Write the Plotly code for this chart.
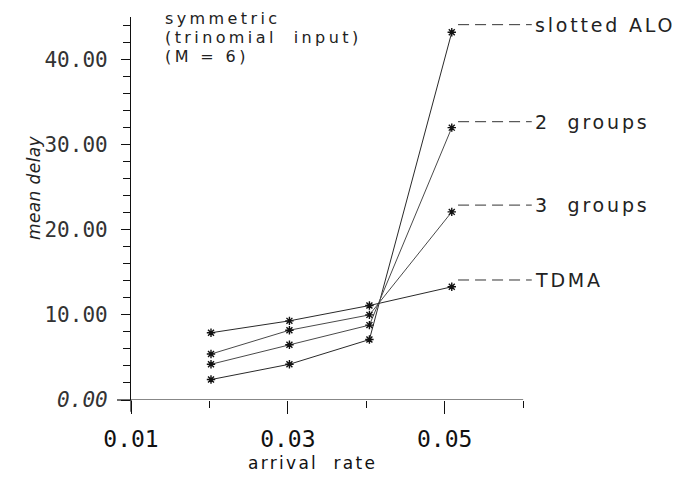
import plotly.graph_objects as go

# ---- data ----
arrival_rate = [0.0202, 0.0302, 0.0404, 0.0509]
slotted_aloha = [2.4, 4.2, 7.1, 43.2]
two_groups = [4.2, 6.5, 8.8, 32.0]
three_groups = [5.4, 8.2, 10.0, 22.1]
tdma = [7.9, 9.3, 11.1, 13.3]

series_names = ["slotted ALOHA", "2  groups", "3  groups", "TDMA"]
series_values = [slotted_aloha, two_groups, three_groups, tdma]

x_tick_vals = [0.01, 0.03, 0.05]
x_tick_text = ["0.01", "0.03", "0.05"]
x_minor_vals = [0.02, 0.04, 0.06]

y_tick_vals = [0, 10, 20, 30, 40]
y_tick_text = ["<i>0.00</i>", "10.00", "20.00", "30.00", "40.00"]

title_lines = ["symmetric", "(trinomial  input)", "(M = 6)"]

# ---- style / layout ----
def spaced(t, ls):
    return '<span style="letter-spacing:%spx">%s</span>' % (ls, t)

label_offset = {"slotted ALOHA": 0.9, "2  groups": 0.7, "3  groups": 0.8, "TDMA": 0.8}
line_colors = ["#2a2a2a", "#4a4a4a", "#4a4a4a", "#2a2a2a"]
FONT = "DejaVu Sans"

fig = go.Figure()
for name, vals, col in zip(series_names, series_values, line_colors):
    fig.add_trace(go.Scatter(
        x=arrival_rate, y=vals, mode="lines+markers", name=name,
        line=dict(color=col, width=1),
        marker=dict(symbol="asterisk-open", size=7, color="#111", line=dict(width=1.4, color="#111")),
        showlegend=False, cliponaxis=False,
    ))
    yl = vals[-1] + label_offset[name]
    fig.add_shape(type="line", x0=arrival_rate[-1] + 0.0008, x1=arrival_rate[-1] + 0.0102,
                  y0=yl, y1=yl, xref="x", yref="y",
                  line=dict(color="#333", width=1, dash="11px,6px"))
    fig.add_annotation(x=arrival_rate[-1] + 0.0104, y=yl, text=spaced(name, 2.8), xref="x", yref="y",
                       showarrow=False, xanchor="left", yanchor="middle",
                       font=dict(family=FONT, size=19, color="#222"))

# x axis line drawn as a shape (axis range extends to the right for labels)
fig.add_shape(type="line", x0=0.01, x1=0.06, y0=0, y1=0, xref="x", yref="y",
              line=dict(color="#111", width=1.2))
# small stubs where the axes cross
fig.add_shape(type="line", x0=-0.0255, x1=0, y0=0, y1=0, xref="paper", yref="paper",
              line=dict(color="#111", width=1.2))
fig.add_shape(type="line", x0=0, x1=0, y0=-0.031, y1=0, xref="paper", yref="paper",
              line=dict(color="#111", width=1.2))

# title block
title_y = [44.85, 42.6, 40.35]
for t, yv in zip(title_lines, title_y):
    fig.add_annotation(x=0.01408, y=yv, text=spaced(t, 3.4), xref="x", yref="y", showarrow=False,
                       xanchor="left", yanchor="middle",
                       font=dict(family=FONT, size=16, color="#222"))

fig.add_annotation(x=-0.1985, y=0.5535, xref="paper", yref="paper", text=spaced("mean delay", 0.4),
                   textangle=-90, showarrow=False,
                   font=dict(family=FONT, size=17, color="#222", style="italic"))
fig.add_annotation(x=0.0331, y=-0.1645, xref="x", yref="paper", text=spaced("arrival  rate", 2.3),
                   showarrow=False, yanchor="middle",
                   font=dict(family=FONT, size=17, color="#111"))

fig.update_layout(
    width=672, height=470,
    margin=dict(l=123, r=0, t=9, b=78),
    paper_bgcolor="white", plot_bgcolor="white",
    xaxis=dict(range=[0.01, 0.08], showgrid=False, zeroline=False, showline=False,
               automargin=False,
               tickmode="array", tickvals=x_tick_vals, ticktext=x_tick_text,
               ticks="outside", ticklen=13, tickwidth=1.2, tickcolor="#111",
               ticklabelstandoff=5,
               tickfont=dict(family="DejaVu Sans Mono", size=23, color="#111"),
               minor=dict(tickmode="array", tickvals=x_minor_vals, ticks="outside",
                          ticklen=7, tickwidth=1, tickcolor="#111")),
    yaxis=dict(range=[0, 45], showgrid=False, zeroline=False, showline=True,
               automargin=False,
               linecolor="#111", linewidth=1.2,
               tickmode="array", tickvals=y_tick_vals, ticktext=y_tick_text,
               ticks="outside", ticklen=9, tickwidth=1.2, tickcolor="#111",
               ticklabelstandoff=9,
               tickfont=dict(family="DejaVu Sans Mono", size=21, color="#333"),
               minor=dict(dtick=2, tick0=0, ticks="outside", ticklen=7,
                          tickwidth=1, tickcolor="#111")),
)

fig.write_html("out.html")
